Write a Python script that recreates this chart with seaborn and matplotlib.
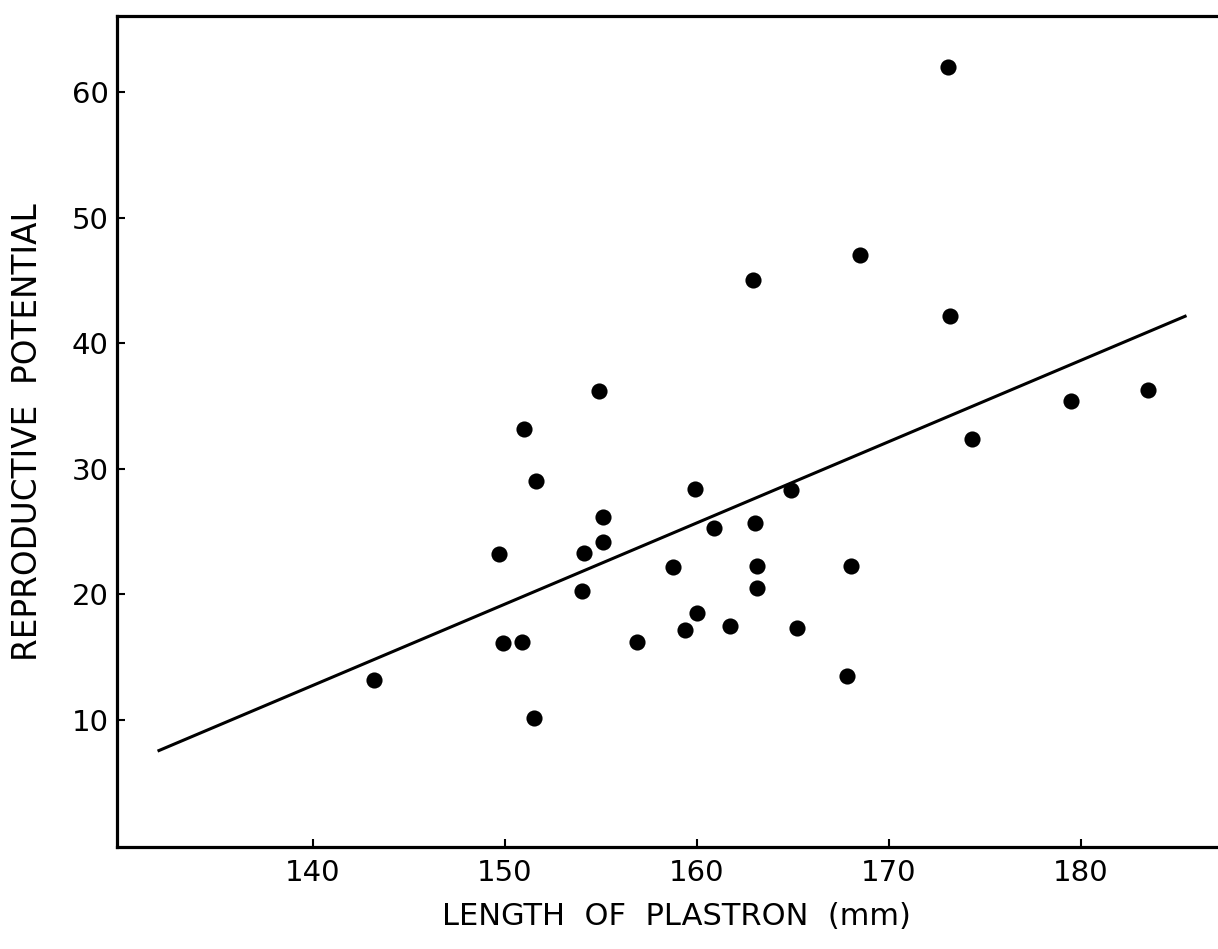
import pandas as pd
import seaborn as sns
import matplotlib.pyplot as plt

# values
plastron = [143.2, 149.7, 149.9, 150.9, 151.0, 151.6, 151.5, 154.1, 154.0, 154.9, 155.1,
            155.1, 156.9, 158.75, 159.4, 160.0, 159.9, 160.9, 161.7, 162.9, 163.0, 163.1,
            163.1, 164.9, 165.2, 168.5, 167.8, 168.0, 173.1, 173.2, 174.3, 179.5, 183.5]
potential = [13.2, 23.2, 16.1, 16.2, 33.2, 29.0, 10.2, 23.3, 20.3, 36.2, 26.2,
             24.2, 16.2, 22.2, 17.2, 18.5, 28.4, 25.3, 17.5, 45.0, 25.7, 22.3,
             20.5, 28.3, 17.3, 47.0, 13.5, 22.3, 62.0, 42.2, 32.4, 35.4, 36.3]
fit_span = [131.9, 185.5]   # extent of the drawn regression line

x_ticks = [140, 150, 160, 170, 180]
y_ticks = [10, 20, 30, 40, 50, 60]

sns.set_style('ticks')
plt.rcParams['font.family'] = ['DejaVu Sans']
plt.rcParams['text.color'] = 'black'
plt.rcParams['axes.labelcolor'] = 'black'

df = pd.DataFrame({'plastron': plastron, 'potential': potential})

fig = plt.figure(figsize=(12.18, 9.49), dpi=100)
ax = fig.add_axes([0.0961, 0.1075, 0.9039, 0.8756])

# truncate=False draws the fit across the current x limits
ax.set_xlim(fit_span)
sns.regplot(data=df, x='plastron', y='potential', ci=None, truncate=False, color='black', ax=ax,
            scatter_kws={'s': 135, 'alpha': 1, 'linewidths': 0},
            line_kws={'lw': 2.2, 'solid_capstyle': 'butt'})

ax.set_xlim(129.79, 187.14)
ax.set_ylim(-0.1, 66.05)
ax.set_xticks(x_ticks)
ax.set_yticks(y_ticks)

ax.spines['right'].set_visible(False)
for side in ['left', 'bottom', 'top']:
    ax.spines[side].set_linewidth(2.3)
    ax.spines[side].set_color('black')
ax.tick_params(direction='in', length=6, width=1.5, labelsize=21, colors='black')
ax.tick_params(axis='x', pad=9)
ax.tick_params(axis='y', pad=6)

ax.set_xlabel('LENGTH  OF  PLASTRON  (mm)', fontsize=22)
ax.set_ylabel('REPRODUCTIVE  POTENTIAL', fontsize=23.5)
ax.xaxis.set_label_coords(0.508, -0.066)
ax.yaxis.set_label_coords(-0.066, 0.499)

fig.savefig('out.png', dpi=100)
